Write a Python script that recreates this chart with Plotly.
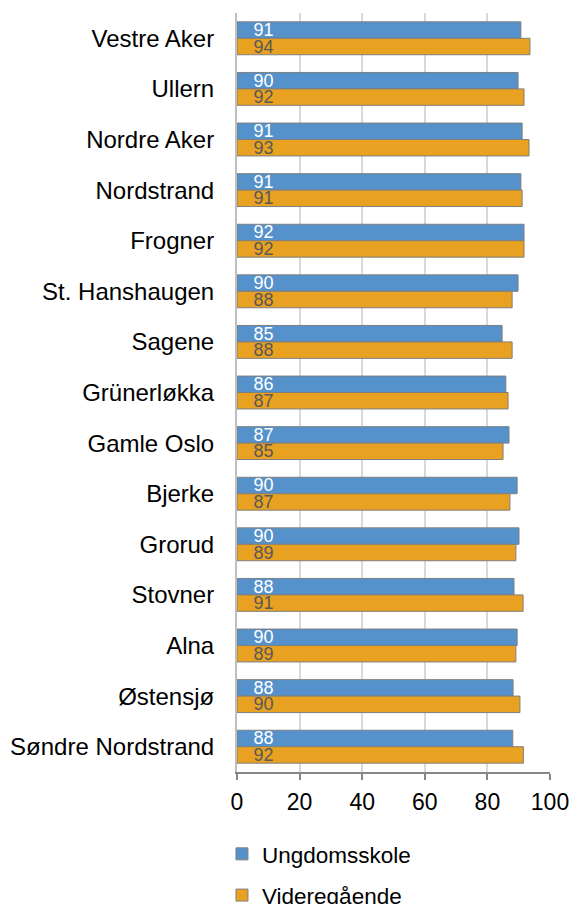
import plotly.graph_objects as go

categories = ["Vestre Aker", "Ullern", "Nordre Aker", "Nordstrand", "Frogner",
              "St. Hanshaugen", "Sagene", "Grünerløkka", "Gamle Oslo", "Bjerke",
              "Grorud", "Stovner", "Alna", "Østensjø", "Søndre Nordstrand"]
ungdomsskole = [90.7, 89.8, 91.1, 90.7, 91.7, 89.8, 84.7, 85.9, 86.9, 89.5,
                90.1, 88.5, 89.5, 88.2, 88.1]
videregaende = [93.6, 91.7, 93.3, 91.1, 91.7, 87.9, 87.9, 86.6, 85.0, 87.2,
                89.1, 91.4, 89.1, 90.4, 91.5]
x_ticks = [0, 20, 40, 60, 80, 100]

BLUE = "#5592CB"
ORANGE = "#E8A120"
OUTLINE = "#7F7F7F"
FONT = "Liberation Sans, Arial"

def labels(vals):
    return ["\u00a0\u00a0\u2009" + str(round(v)) for v in vals]

fig = go.Figure()
fig.add_trace(go.Bar(
    y=categories, x=ungdomsskole, orientation="h", name="Ungdomsskole",
    marker=dict(color=BLUE, line=dict(color=OUTLINE, width=1)),
    text=labels(ungdomsskole), textposition="inside", insidetextanchor="start",
    constraintext="none", textangle=0,
    insidetextfont=dict(color="white", size=18, family=FONT),
    legendgroup="a", hoverinfo="x+y",
))
fig.add_trace(go.Bar(
    y=categories, x=videregaende, orientation="h", name="Videregående",
    marker=dict(color=ORANGE, line=dict(color=OUTLINE, width=1)),
    text=labels(videregaende), textposition="inside", insidetextanchor="start",
    constraintext="none", textangle=0,
    insidetextfont=dict(color="#595959", size=18, family=FONT),
    legendgroup="b", hoverinfo="x+y",
))

fig.update_layout(
    width=573, height=904,
    margin=dict(l=237, r=23, t=13, b=132, autoexpand=False),
    paper_bgcolor="white", plot_bgcolor="white",
    barmode="group", bargap=0.35, bargroupgap=0,
    font=dict(family=FONT, size=23, color="black"),
    showlegend=True,
    legend=dict(
        orientation="v", x=-0.048, xanchor="left", y=-0.080, yanchor="top",
        traceorder="grouped", tracegroupgap=9,
        font=dict(size=22.5, color="black"), bgcolor="rgba(0,0,0,0)",
    ),
    xaxis=dict(
        range=[0, 100], tickvals=x_ticks, ticktext=[str(t) for t in x_ticks],
        showgrid=True, gridcolor="#D9D9D9", gridwidth=2,
        showline=True, linecolor="#868686", linewidth=2,
        ticks="outside", ticklen=6, tickcolor="#868686", tickwidth=2,
        zeroline=False, tickfont=dict(size=23, color="black"),
        ticklabelstandoff=2,
    ),
    yaxis=dict(
        autorange="reversed", type="category",
        showline=True, linecolor="#BFBFBF", linewidth=2,
        ticks="", showgrid=False, ticklabelstandoff=16,
        tickfont=dict(size=24, color="black"),
    ),
)

# remove the default 8px body margin so the figure fills the window exactly
fig.write_html("out.html", config={"displayModeBar": False},
               post_script="document.body.style.margin='0';")
